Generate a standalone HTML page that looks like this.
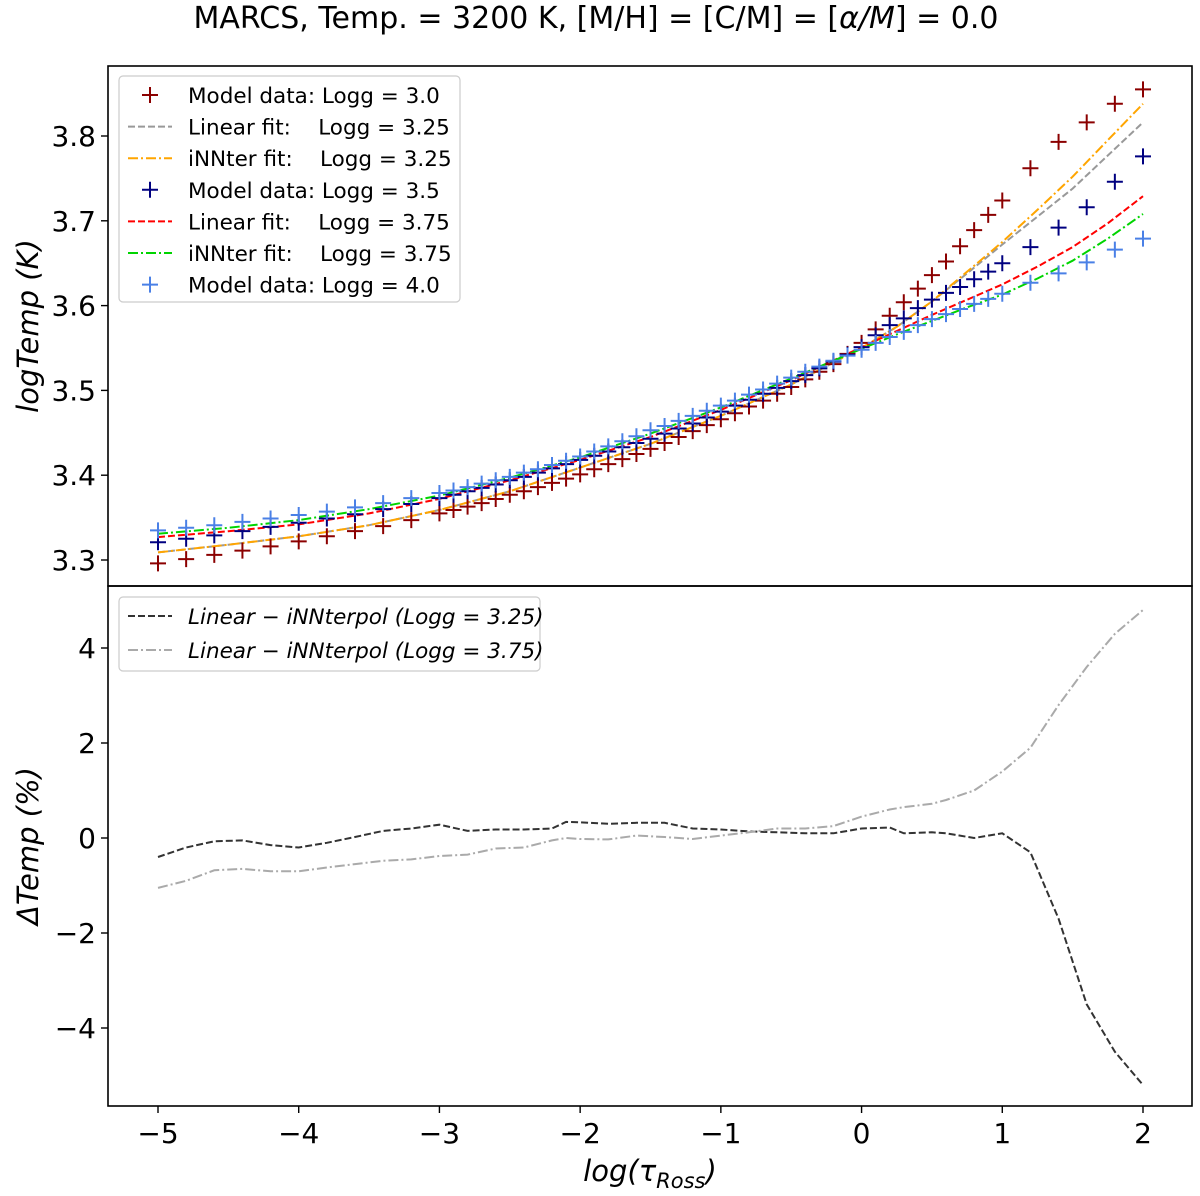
<!DOCTYPE html>
<html><head><meta charset="utf-8"><style>
html,body{margin:0;padding:0;background:#fff;}
svg{display:block;font-family:"DejaVu Sans","Liberation Sans",sans-serif;}
</style></head><body>
<svg id="chart" width="1200" height="1196" viewBox="0 0 1200 1196">
<text x="596" y="28" text-anchor="middle" font-size="30">MARCS, Temp. = 3200 K, [M/H] = [C/M] = [<tspan font-style="italic">α/M</tspan>] = 0.0</text>
<g id="top"></g>
<g id="bot"></g>
<rect x="108" y="66" width="1084" height="520" fill="none" stroke="#000" stroke-width="1.6"/>
<rect x="108" y="586" width="1084" height="520" fill="none" stroke="#000" stroke-width="1.6"/>
<text transform="translate(38,326) rotate(-90)" text-anchor="middle" font-size="29" font-style="italic">logTemp (K)</text>
<text transform="translate(38,846) rotate(-90)" text-anchor="middle" font-size="29" font-style="italic">ΔTemp (%)</text>
<text x="650" y="1181" text-anchor="middle" font-size="29" font-style="italic">log(τ<tspan font-size="21" dy="7">Ross</tspan><tspan dy="-7">)</tspan></text>
<g id="legend1"></g>
<g id="legend2"></g>
</svg>
<script>
const NS="http://www.w3.org/2000/svg";
const gridX=[-5,-4.8,-4.6,-4.4,-4.2,-4,-3.8,-3.6,-3.4,-3.2,-3,-2.9,-2.8,-2.7,-2.6,-2.5,-2.4,-2.3,-2.2,-2.1,-2,-1.9,-1.8,-1.7,-1.6,-1.5,-1.4,-1.3,-1.2,-1.1,-1,-0.9,-0.8,-0.7,-0.6,-0.5,-0.4,-0.3,-0.2,-0.1,0,0.1,0.2,0.3,0.4,0.5,0.6,0.7,0.8,0.9,1,1.2,1.4,1.6,1.8,2];
const model30=[3.296,3.301,3.306,3.311,3.316,3.322,3.328,3.334,3.340,3.347,3.355,3.359,3.363,3.367,3.372,3.377,3.381,3.386,3.391,3.396,3.401,3.407,3.413,3.419,3.425,3.431,3.438,3.445,3.452,3.459,3.466,3.473,3.481,3.488,3.496,3.504,3.513,3.522,3.531,3.543,3.556,3.572,3.588,3.604,3.620,3.636,3.652,3.670,3.689,3.707,3.724,3.762,3.793,3.816,3.838,3.855];
const model35=[3.321,3.325,3.329,3.334,3.339,3.344,3.349,3.354,3.360,3.366,3.373,3.377,3.381,3.385,3.389,3.394,3.398,3.403,3.408,3.413,3.418,3.423,3.428,3.433,3.438,3.443,3.449,3.455,3.461,3.468,3.475,3.482,3.489,3.496,3.503,3.511,3.518,3.526,3.534,3.542,3.551,3.565,3.577,3.585,3.597,3.607,3.615,3.622,3.631,3.640,3.650,3.669,3.692,3.716,3.746,3.776];
const model40=[3.335,3.338,3.341,3.345,3.349,3.353,3.357,3.362,3.367,3.373,3.379,3.382,3.386,3.390,3.394,3.398,3.403,3.407,3.412,3.417,3.422,3.428,3.434,3.440,3.446,3.453,3.458,3.464,3.470,3.476,3.482,3.488,3.495,3.501,3.508,3.515,3.522,3.528,3.535,3.541,3.548,3.556,3.563,3.569,3.577,3.584,3.590,3.596,3.602,3.608,3.614,3.627,3.638,3.651,3.666,3.679];
const fitX=[-5,-4.5,-4,-3.5,-3,-2.5,-2,-1.5,-1,-0.5,0,0.25,0.5,0.75,1,1.25,1.5,1.75,2];
const lin325=[3.309,3.318,3.328,3.341,3.359,3.381,3.409,3.437,3.470,3.507,3.550,3.575,3.605,3.638,3.672,3.705,3.738,3.777,3.816];
const inn325=[3.309,3.318,3.328,3.341,3.359,3.381,3.409,3.437,3.470,3.507,3.550,3.575,3.605,3.640,3.675,3.713,3.752,3.795,3.838];
const lin375=[3.327,3.334,3.342,3.355,3.372,3.394,3.418,3.445,3.477,3.512,3.551,3.570,3.589,3.607,3.625,3.646,3.669,3.697,3.729];
const inn375=[3.331,3.338,3.347,3.360,3.376,3.397,3.421,3.449,3.480,3.514,3.549,3.566,3.582,3.598,3.613,3.632,3.653,3.679,3.708];
const diffX=[-5,-4.8,-4.6,-4.4,-4.2,-4,-3.8,-3.6,-3.4,-3.2,-3,-2.8,-2.6,-2.4,-2.2,-2.1,-2,-1.8,-1.6,-1.4,-1.2,-1,-0.8,-0.6,-0.4,-0.2,0,0.2,0.3,0.5,0.6,0.8,1,1.2,1.4,1.6,1.8,2];
const diff325=[-0.4,-0.2,-0.07,-0.05,-0.15,-0.2,-0.1,0.02,0.15,0.2,0.28,0.15,0.18,0.18,0.2,0.34,0.33,0.3,0.32,0.32,0.2,0.18,0.14,0.12,0.1,0.1,0.2,0.22,0.1,0.12,0.1,0.0,0.1,-0.3,-1.7,-3.5,-4.5,-5.2];
const diff375=[-1.05,-0.9,-0.68,-0.65,-0.7,-0.7,-0.62,-0.55,-0.48,-0.45,-0.38,-0.35,-0.22,-0.2,-0.05,0.0,-0.02,-0.03,0.05,0.02,-0.02,0.05,0.12,0.2,0.2,0.25,0.45,0.6,0.65,0.72,0.8,1.0,1.4,1.9,2.8,3.6,4.3,4.8];
const xTicks=[-5,-4,-3,-2,-1,0,1,2];
const topTicks=[3.3,3.4,3.5,3.6,3.7,3.8];
const botTicks=[-4,-2,0,2,4];

const X=v=>158+(v+5)*(1143-158)/7;
const Yt=v=>560-(v-3.3)*848;
const Yb=v=>838-v*47.5;
const svg=document.getElementById('chart');
const top_=document.getElementById('top'), bot=document.getElementById('bot');
function el(tag,attrs,parent){const e=document.createElementNS(NS,tag);for(const k in attrs)e.setAttribute(k,attrs[k]);parent.appendChild(e);return e;}

xTicks.forEach(t=>{
  const l=el('line',{x1:X(t),x2:X(t),y1:1106,y2:1113,stroke:'#000','stroke-width':1.4},svg);
  
  
  const tx=el('text',{x:X(t),y:1143,'text-anchor':'middle','font-size':28},svg);
  tx.textContent=(t<0?'−'+(-t):String(t));
  
  
});
topTicks.forEach(t=>{
  const l=el('line',{x1:101,x2:108,y1:Yt(t),y2:Yt(t),stroke:'#000','stroke-width':1.4},svg);
  
  
  const tx=el('text',{x:96,y:Yt(t)+10,'text-anchor':'end','font-size':28},svg);
  tx.textContent=t.toFixed(1);
  
  
});
botTicks.forEach(t=>{
  const l=el('line',{x1:101,x2:108,y1:Yb(t),y2:Yb(t),stroke:'#000','stroke-width':1.4},svg);
  
  
  const tx=el('text',{x:96,y:Yb(t)+10,'text-anchor':'end','font-size':28},svg);
  tx.textContent=(t<0?'−'+(-t):String(t));
  
  
});

function line(xs,ys,Y,color,dash,parent,name){
  const d=xs.map((x,i)=>(i?'L':'M')+X(x).toFixed(1)+','+Y(ys[i]).toFixed(1)).join('');
  const p=el('path',{d:d,fill:'none',stroke:color,'stroke-width':2,'stroke-dasharray':dash},parent);
  
  
}
function plus(cx,cy,color,parent,name){
  const p=el('path',{d:`M${cx-8},${cy}H${cx+8}M${cx},${cy-8}V${cy+8}`,stroke:color,'stroke-width':2,fill:'none'},parent);
  
  
}
const C30='#8b0000',C35='#000080',C40='#4a80e6';
line(fitX,lin325,Yt,'#999','7,3',top_,'linear-fit-3.25');
line(fitX,inn325,Yt,'orange','10,3,2,3',top_,'innter-fit-3.25');
line(fitX,lin375,Yt,'red','7,3',top_,'linear-fit-3.75');
line(fitX,inn375,Yt,'#00d400','10,3,2,3',top_,'innter-fit-3.75');
gridX.forEach((x,i)=>plus(X(x),Yt(model30[i]),C30,top_,'model-point-logg-3.0'));
gridX.forEach((x,i)=>plus(X(x),Yt(model35[i]),C35,top_,'model-point-logg-3.5'));
gridX.forEach((x,i)=>plus(X(x),Yt(model40[i]),C40,top_,'model-point-logg-4.0'));
line(diffX,diff325,Yb,'#333','7,3',bot,'diff-line-3.25');
line(diffX,diff375,Yb,'#aaa','10,3,2,3',bot,'diff-line-3.75');

const L1=document.getElementById('legend1');
el('rect',{x:119,y:76,width:341,height:226,rx:4,fill:'#fff','fill-opacity':0.85,stroke:'#ccc','stroke-width':1.2},L1);
const entries=[['p',C30,'Model data: Logg = 3.0'],['l','#999','Linear fit:    Logg = 3.25','7,3'],['l','orange','iNNter fit:    Logg = 3.25','10,3,2,3'],['p',C35,'Model data: Logg = 3.5'],['l','red','Linear fit:    Logg = 3.75','7,3'],['l','#00d400','iNNter fit:    Logg = 3.75','10,3,2,3'],['p',C40,'Model data: Logg = 4.0']];
entries.forEach((e,i)=>{
  const y=95+i*31.6;
  if(e[0]==='p') plus(150,y,e[1],L1,'legend-marker');
  else { const l=el('line',{x1:128,x2:172,y1:y,y2:y,stroke:e[1],'stroke-width':2,'stroke-dasharray':e[3]},L1);
    
     }
  const t=el('text',{x:188,y:y+8,'font-size':21.5},L1);
  t.style.whiteSpace='pre';
  t.textContent=e[2];
  
  
});
const L2=document.getElementById('legend2');
el('rect',{x:119,y:597,width:421,height:74,rx:4,fill:'#fff','fill-opacity':0.85,stroke:'#ccc','stroke-width':1.2},L2);
[['#333','7,3','3.25'],['#aaa','10,3,2,3','3.75']].forEach((e,i)=>{
  const y=616+i*34;
  const l=el('line',{x1:128,x2:172,y1:y,y2:y,stroke:e[0],'stroke-width':2,'stroke-dasharray':e[1]},L2);
  
  
  const t=el('text',{x:188,y:y+8,'font-size':21.5,'font-style':'italic'},L2);
  t.textContent='Linear − iNNterpol (Logg = '+e[2]+')';
  
  
});
</script>
</body></html>
